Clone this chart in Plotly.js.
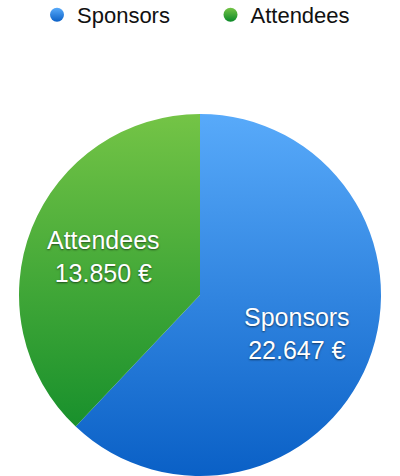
<!DOCTYPE html>
<html>
<head>
<meta charset="utf-8">
<script src="https://cdn.plot.ly/plotly-3.0.1.min.js"></script>
<style>
  html, body { margin: 0; padding: 0; background: #fff; }
  #chart { width: 400px; height: 476px; }
</style>
</head>
<body>
<div id="chart"></div>
<script>
const categories = ["Sponsors", "Attendees"];
const amounts = [22647, 13850];
const valueLabels = ["22.647 €", "13.850 €"];
const baseColors = ["#2a84de", "#3ea63a"];
const gradientStops = [
  ["#58aafa", "#0a60c6"],
  ["#74c446", "#0a8828"]
];

const W = 400, H = 476;
const pieBox = { x0: 19, x1: 381, y0: 114, y1: 476 };   // pixel box of the pie domain
const labelRadiusFrac = 0.575;

const data = [{
  type: "pie",
  labels: categories,
  values: amounts,
  textinfo: "none",
  sort: false,
  direction: "clockwise",
  rotation: 0,
  domain: { x: [pieBox.x0 / W, pieBox.x1 / W], y: [1 - pieBox.y1 / H, 1 - pieBox.y0 / H] },
  marker: { colors: baseColors, line: { width: 0 } },
  hoverinfo: "none"
}];

// slice labels placed along each slice's bisector (computed from the values)
const total = amounts.reduce((a, b) => a + b, 0);
const cxPx = (pieBox.x0 + pieBox.x1) / 2, cyPx = (pieBox.y0 + pieBox.y1) / 2;
const rPx = (pieBox.x1 - pieBox.x0) / 2;
let cum = 0;
const annotations = amounts.map(function (v, i) {
  const mid = (cum + v / 2) / total * 2 * Math.PI;
  cum += v;
  const px = cxPx + labelRadiusFrac * rPx * Math.sin(mid);
  const py = cyPx - labelRadiusFrac * rPx * Math.cos(mid);
  return {
    xref: "paper", yref: "paper",
    x: px / W, y: 1 - py / H,
    xanchor: "center", yanchor: "middle",
    showarrow: false,
    text: categories[i] + "<br>" + valueLabels[i],
    align: "center",
    font: {
      family: "Liberation Sans, Arial, sans-serif",
      size: 25,
      color: "#ffffff",
      shadow: "0px 1px 2px rgba(0,0,0,0.55)"
    }
  };
});

const layout = {
  width: W,
  height: H,
  margin: { l: 0, r: 0, t: 0, b: 0, pad: 0, autoexpand: false },
  paper_bgcolor: "#ffffff",
  showlegend: true,
  annotations: annotations,
  legend: {
    orientation: "h",
    x: 37 / W,
    xanchor: "left",
    xref: "container",
    y: 1 - 15 / H,
    yanchor: "middle",
    yref: "container",
    entrywidth: 128.5,
    entrywidthmode: "pixels",
    font: { family: "Liberation Sans, Arial, sans-serif", size: 22, color: "#111111" },
    itemclick: false
  }
};

Plotly.newPlot("chart", data, layout, { displayModeBar: false, staticPlot: true }).then(function (gd) {
  const svg = gd.querySelector("svg.main-svg");
  const NS = "http://www.w3.org/2000/svg";
  let defs = svg.querySelector("defs");
  if (!defs) { defs = document.createElementNS(NS, "defs"); svg.insertBefore(defs, svg.firstChild); }

  function makeGrad(id, stops, units, y1, y2) {
    const g = document.createElementNS(NS, "linearGradient");
    g.setAttribute("id", id);
    g.setAttribute("x1", "0"); g.setAttribute("x2", "0");
    g.setAttribute("gradientUnits", units);
    g.setAttribute("y1", String(y1)); g.setAttribute("y2", String(y2));
    [[0, stops[0]], [1, stops[1]]].forEach(function (s) {
      const st = document.createElementNS(NS, "stop");
      st.setAttribute("offset", String(s[0]));
      st.setAttribute("stop-color", s[1]);
      g.appendChild(st);
    });
    defs.appendChild(g);
  }

  const slices = gd.querySelectorAll("g.slice path.surface");
  let minY = Infinity, maxY = -Infinity;
  slices.forEach(function (p) {
    const b = p.getBBox();
    minY = Math.min(minY, b.y);
    maxY = Math.max(maxY, b.y + b.height);
  });
  slices.forEach(function (p, i) {
    makeGrad("sliceGrad" + i, gradientStops[i], "userSpaceOnUse", minY, maxY);
    p.style.fill = "url(#sliceGrad" + i + ")";
  });

  const legendPts = gd.querySelectorAll("g.legend g.traces");
  legendPts.forEach(function (tr, i) {
    makeGrad("legGrad" + i, gradientStops[i], "objectBoundingBox", 0, 1);
    const path = tr.querySelector("path.legendpie, g.legendpoints path");
    if (path) {
      path.setAttribute("d", "M7,0A7,7 0 1,1 0,-7A7,7 0 0,1 7,0Z");
      path.style.fill = "url(#legGrad" + i + ")";
      path.style.stroke = "none";
    }
  });
});
</script>
</body>
</html>
